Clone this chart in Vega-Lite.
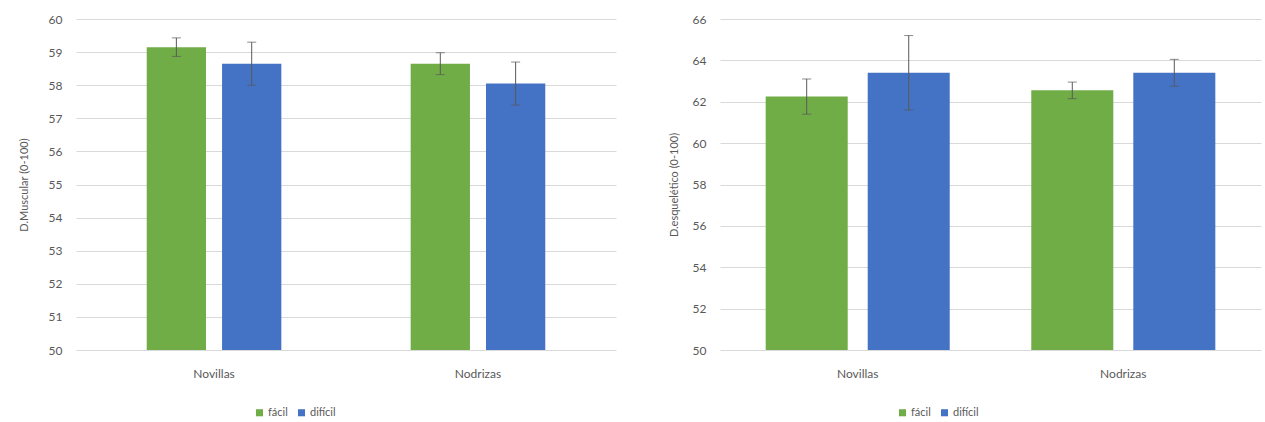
{
  "$schema": "https://vega.github.io/schema/vega-lite/v6.json",
  "padding": {"left": 18, "top": 13, "right": 5, "bottom": 5},
  "background": "white",
  "config": {
    "font": "Lato",
    "view": {"stroke": null},
    "axis": {"labelColor": "#595959", "titleColor": "#595959", "labelFont": "Lato", "titleFont": "Lato", "labelFontSize": 12, "titleFontSize": 11, "titleFontWeight": "normal", "domain": false, "ticks": false, "gridColor": "#D9D9D9", "labelOverlap": false},
    "legend": {"labelColor": "#595959", "labelFont": "Lato", "labelFontSize": 11}
  },
  "datasets": {
    "musc": [
      {"grupo": "Novillas", "nivel": "fácil", "valor": 59.15, "lo": 58.87, "hi": 59.43},
      {"grupo": "Novillas", "nivel": "difícil", "valor": 58.65, "lo": 58.0, "hi": 59.3},
      {"grupo": "Nodrizas", "nivel": "fácil", "valor": 58.65, "lo": 58.32, "hi": 58.98},
      {"grupo": "Nodrizas", "nivel": "difícil", "valor": 58.05, "lo": 57.4, "hi": 58.7}
    ],
    "esq": [
      {"grupo": "Novillas", "nivel": "fácil", "valor": 62.25, "lo": 61.4, "hi": 63.1},
      {"grupo": "Novillas", "nivel": "difícil", "valor": 63.4, "lo": 61.6, "hi": 65.2},
      {"grupo": "Nodrizas", "nivel": "fácil", "valor": 62.55, "lo": 62.15, "hi": 62.95},
      {"grupo": "Nodrizas", "nivel": "difícil", "valor": 63.4, "lo": 62.75, "hi": 64.05}
    ]
  },
  "spacing": 52,
  "resolve": {"legend": {"color": "independent"}, "scale": {"y": "independent", "x": "independent", "xOffset": "independent"}},
  "hconcat": [
    {
      "width": 540,
      "height": 331,
      "data": {"name": "musc"},
      "encoding": {
        "x": {"field": "grupo", "type": "nominal", "sort": ["Novillas", "Nodrizas"], "title": null,
              "scale": {"paddingInner": 0.49, "paddingOuter": 0.268},
              "axis": {"labelAngle": 0, "labelPadding": 18, "labelFontSize": 12, "grid": false}},
        "xOffset": {"field": "nivel", "type": "nominal", "sort": ["fácil", "difícil"], "scale": {"paddingInner": 0.213, "paddingOuter": 0}}
      },
      "layer": [
        {
          "mark": {"type": "bar"},
          "encoding": {
            "y": {"field": "valor", "type": "quantitative", "title": "D.Muscular (0-100)",
                  "scale": {"domain": [50, 60], "zero": false, "nice": false},
                  "axis": {"values": [50, 51, 52, 53, 54, 55, 56, 57, 58, 59, 60], "labelPadding": 14, "titlePadding": 19}},
            "y2": {"datum": 50},
            "color": {"field": "nivel", "type": "nominal", "sort": ["fácil", "difícil"],
                      "scale": {"domain": ["fácil", "difícil"], "range": ["#70AD47", "#4472C4"]},
                      "legend": {"title": null, "orient": "none", "direction": "horizontal", "legendX": 178, "legendY": 388, "symbolType": "square", "symbolSize": 50, "columnPadding": 8, "labelOffset": 3}}
          }
        },
        {
          "mark": {"type": "rule", "color": "#595959", "strokeWidth": 1},
          "encoding": {"y": {"field": "lo", "type": "quantitative", "title": "D.Muscular (0-100)", "axis": {"values": [50, 51, 52, 53, 54, 55, 56, 57, 58, 59, 60], "labelPadding": 14, "titlePadding": 19}}, "y2": {"field": "hi"}}
        },
        {
          "mark": {"type": "tick", "color": "#595959", "thickness": 1, "size": 9},
          "encoding": {"y": {"field": "hi", "type": "quantitative", "title": "D.Muscular (0-100)", "axis": {"values": [50, 51, 52, 53, 54, 55, 56, 57, 58, 59, 60], "labelPadding": 14, "titlePadding": 19}}}
        },
        {
          "mark": {"type": "tick", "color": "#595959", "thickness": 1, "size": 9},
          "encoding": {"y": {"field": "lo", "type": "quantitative", "title": "D.Muscular (0-100)", "axis": {"values": [50, 51, 52, 53, 54, 55, 56, 57, 58, 59, 60], "labelPadding": 14, "titlePadding": 19}}}
        }
      ]
    },
    {
      "width": 541,
      "height": 331,
      "data": {"name": "esq"},
      "encoding": {
        "x": {"field": "grupo", "type": "nominal", "sort": ["Novillas", "Nodrizas"], "title": null,
              "scale": {"paddingInner": 0.307, "paddingOuter": 0.172},
              "axis": {"labelAngle": 0, "labelPadding": 18, "labelFontSize": 12, "grid": false}},
        "xOffset": {"field": "nivel", "type": "nominal", "sort": ["fácil", "difícil"], "scale": {"paddingInner": 0.196, "paddingOuter": 0}}
      },
      "layer": [
        {
          "mark": {"type": "bar"},
          "encoding": {
            "y": {"field": "valor", "type": "quantitative", "title": "D.esquelético (0-100)",
                  "scale": {"domain": [50, 66], "zero": false, "nice": false},
                  "axis": {"values": [50, 52, 54, 56, 58, 60, 62, 64, 66], "labelPadding": 14, "titlePadding": 13}},
            "y2": {"datum": 50},
            "color": {"field": "nivel", "type": "nominal", "sort": ["fácil", "difícil"],
                      "scale": {"domain": ["fácil", "difícil"], "range": ["#70AD47", "#4472C4"]},
                      "legend": {"title": null, "orient": "none", "direction": "horizontal", "legendX": 177, "legendY": 388, "symbolType": "square", "symbolSize": 50, "columnPadding": 8, "labelOffset": 3}}
          }
        },
        {
          "mark": {"type": "rule", "color": "#595959", "strokeWidth": 1},
          "encoding": {"y": {"field": "lo", "type": "quantitative", "title": "D.esquelético (0-100)", "axis": {"values": [50, 52, 54, 56, 58, 60, 62, 64, 66], "labelPadding": 14, "titlePadding": 13}}, "y2": {"field": "hi"}}
        },
        {
          "mark": {"type": "tick", "color": "#595959", "thickness": 1, "size": 9},
          "encoding": {"y": {"field": "hi", "type": "quantitative", "title": "D.esquelético (0-100)", "axis": {"values": [50, 52, 54, 56, 58, 60, 62, 64, 66], "labelPadding": 14, "titlePadding": 13}}}
        },
        {
          "mark": {"type": "tick", "color": "#595959", "thickness": 1, "size": 9},
          "encoding": {"y": {"field": "lo", "type": "quantitative", "title": "D.esquelético (0-100)", "axis": {"values": [50, 52, 54, 56, 58, 60, 62, 64, 66], "labelPadding": 14, "titlePadding": 13}}}
        }
      ]
    }
  ]
}
